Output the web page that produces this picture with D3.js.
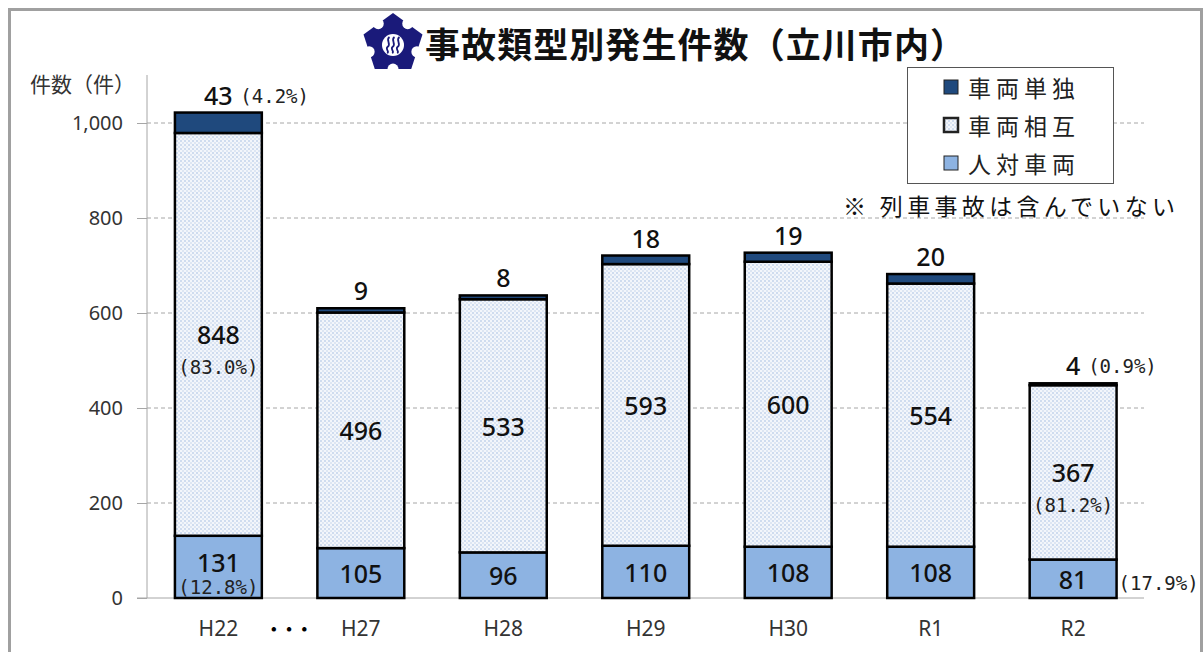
<!DOCTYPE html>
<html lang='ja'>
<head>
  <meta charset='UTF-8'>
  <title>事故類型別発生件数</title>
  <style>
    * { margin: 0; padding: 0; }
    body { background: #fff; }
    #chart { width: 1204px; height: 652px; overflow: hidden; }
    text { font-family: 'Noto Sans CJK JP', 'Noto Sans', sans-serif; }
  </style>
</head>
<body>
<script src='https://cdn.jsdelivr.net/npm/d3@7'></script>
<div id='chart'></div>
<script>
  // データ
  const categories = ['H22', 'H27', 'H28', 'H29', 'H30', 'R1', 'R2']
  const jinTaiSharyo = [131, 105, 96, 110, 108, 108, 81]    // 人対車両
  const sharyoSogo = [848, 496, 533, 593, 600, 554, 367]     // 車両相互
  const sharyoTandoku = [43, 9, 8, 18, 19, 20, 4]            // 車両単独
  const pctJin = ['12.8%', null, null, null, null, null, '17.9%']
  const pctSogo = ['83.0%', null, null, null, null, null, '81.2%']
  const pctTandoku = ['4.2%', null, null, null, null, null, '0.9%']
  const yTicks = [0, 200, 400, 600, 800, 1000]

  const W = 1204, H = 652
  const plotL = 147, plotR = 1144, plotT = 123, plotB = 598

  const svg = d3.select('#chart').append('svg')
    .attr('width', W).attr('height', H)

  const defs = svg.append('defs')
  const pat = defs.append('pattern').attr('id', 'dots')
    .attr('width', 4).attr('height', 4).attr('patternUnits', 'userSpaceOnUse')
  pat.append('rect').attr('width', 4).attr('height', 4).attr('fill', '#f3f6fb')
  pat.append('rect').attr('x', 0).attr('y', 0).attr('width', 2).attr('height', 2).attr('fill', '#cfdcef')
  pat.append('rect').attr('x', 2).attr('y', 2).attr('width', 2).attr('height', 2).attr('fill', '#dde6f3')

  // 枠
  svg.append('rect')
    .attr('x', 9.5).attr('y', 9.5).attr('width', 1192).attr('height', 680)
    .attr('fill', 'none').attr('stroke', '#a0a0a0').attr('stroke-width', 3)

  const x = d3.scaleBand().domain(categories).range([plotL, plotR + 0.5])
    .paddingInner(0.39).paddingOuter(0.196)
  const y = d3.scaleLinear().domain([0, 1000]).range([plotB, plotT])

  // グリッド
  svg.append('g').selectAll('line').data(yTicks.filter(d => d > 0)).join('line')
    .attr('x1', plotL).attr('x2', plotR)
    .attr('y1', d => y(d)).attr('y2', d => y(d))
    .attr('stroke', '#a6a6a6').attr('stroke-dasharray', '4,3')

  // y軸
  const yAxis = svg.append('g')
    .attr('transform', `translate(${plotL},0)`)
    .call(d3.axisLeft(y).tickValues(yTicks).tickSize(10).tickPadding(14).tickFormat(d3.format(',')))
  yAxis.select('.domain').remove()
  yAxis.selectAll('line').attr('stroke', '#a6a6a6')
  yAxis.selectAll('text').attr('font-size', 20).attr('fill', '#333')
    .style('font-family', "'Noto Sans', sans-serif")
  svg.append('line').attr('x1', plotL).attr('x2', plotL).attr('y1', 75).attr('y2', plotB)
    .attr('stroke', '#a6a6a6')
  svg.append('line').attr('x1', plotL - 10).attr('x2', plotR).attr('y1', plotB).attr('y2', plotB)
    .attr('stroke', '#a6a6a6')

  // x軸ラベル
  const xAxis = svg.append('g')
    .attr('transform', `translate(0,${plotB})`)
    .call(d3.axisBottom(x).tickSize(0).tickPadding(23))
  xAxis.select('.domain').remove()
  xAxis.selectAll('text').attr('font-size', 21).attr('fill', '#333')
    .style('font-family', "'Noto Sans', sans-serif")

  svg.append('text').attr('x', (x('H22') + x('H27') + x.bandwidth()) / 2).attr('y', 638)
    .attr('text-anchor', 'middle').attr('font-size', 24).attr('font-weight', 'bold')
    .attr('letter-spacing', 1).text('···')

  svg.append('text').attr('x', 30).attr('y', 92).attr('font-size', 21).attr('fill', '#333')
    .text('件数（件）')

  // 積み上げ
  const rows = categories.map((c, i) => ({
    cat: c, i,
    segs: [
      { key: 'jin', y0: 0, y1: jinTaiSharyo[i], v: jinTaiSharyo[i], pct: pctJin[i] },
      { key: 'sogo', y0: jinTaiSharyo[i], y1: jinTaiSharyo[i] + sharyoSogo[i], v: sharyoSogo[i], pct: pctSogo[i] },
      { key: 'tan', y0: jinTaiSharyo[i] + sharyoSogo[i], y1: jinTaiSharyo[i] + sharyoSogo[i] + sharyoTandoku[i], v: sharyoTandoku[i], pct: pctTandoku[i] }
    ]
  }))
  const fills = { jin: '#8db3e2', sogo: 'url(#dots)', tan: '#1f497d' }

  const g = svg.append('g').selectAll('g').data(rows).join('g')
  g.selectAll('rect').data(d => d.segs.map(s => ({ ...s, cat: d.cat }))).join('rect')
    .attr('x', d => x(d.cat))
    .attr('width', x.bandwidth())
    .attr('y', d => y(d.y1))
    .attr('height', d => y(d.y0) - y(d.y1))
    .attr('fill', d => fills[d.key])
    .attr('stroke', '#000').attr('stroke-width', 2.5)

  const numFont = 25, pctFont = 19
  rows.forEach(r => {
    const cx = x(r.cat) + x.bandwidth() / 2
    const [jin, sogo, tan] = r.segs
    // 人対車両
    const jm = (y(jin.y0) + y(jin.y1)) / 2
    const jh = y(jin.y0) - y(jin.y1)
    if (jin.pct && jh > 50) {
      addNum(cx, jm - 5, jin.v)
      addPct(cx, jm + 20, jin.pct, 'middle')
    } else {
      addNum(cx, jm, jin.v)
      if (jin.pct) addPct(x(r.cat) + x.bandwidth() + 2, jm + 4, jin.pct, 'start')
    }
    // 車両相互
    const sm = (y(sogo.y0) + y(sogo.y1)) / 2
    addNum(cx, sm, sogo.v)
    if (sogo.pct) addPct(cx, sm + 33, sogo.pct, 'middle')
    // 車両単独
    const ty = y(tan.y1) - 18
    addNum(cx, ty, tan.v)
    if (tan.pct) addPct(cx + (String(tan.v).length * 7) + 8, ty + 1, tan.pct, 'start')
  })

  function addNum (cx, cy, v) {
    svg.append('text').attr('x', cx).attr('y', cy)
      .attr('text-anchor', 'middle').attr('dominant-baseline', 'central')
      .attr('font-size', numFont).attr('font-weight', 500).attr('fill', '#111')
      .style('font-family', "'Noto Sans', sans-serif")
      .text(v)
  }
  function addPct (px, py, p, anchor) {
    svg.append('text').attr('x', px).attr('y', py)
      .attr('text-anchor', anchor).attr('dominant-baseline', 'central')
      .attr('font-size', pctFont).attr('fill', '#222')
      .style('font-family', "'DejaVu Sans Mono', monospace")
      .text('(' + p + ')')
  }

  // 凡例
  const legend = svg.append('g')
  legend.append('rect').attr('x', 907.5).attr('y', 67.5).attr('width', 206).attr('height', 116)
    .attr('fill', '#fff').attr('stroke', '#555').attr('stroke-width', 1)
  const legendItems = [
    { label: '車両単独', fill: '#1f497d', sw: 1 },
    { label: '車両相互', fill: 'url(#dots)', sw: 2.5 },
    { label: '人対車両', fill: '#8db3e2', sw: 1 }
  ]
  legendItems.forEach((d, i) => {
    const ly = 87 + i * 38
    legend.append('rect').attr('x', 944).attr('y', ly - 7).attr('width', 14).attr('height', 14)
      .attr('fill', d.fill).attr('stroke', '#222').attr('stroke-width', d.sw)
    legend.append('text').attr('x', 968).attr('y', ly).attr('dominant-baseline', 'central')
      .attr('font-size', 23).attr('letter-spacing', 5).attr('fill', '#222').text(d.label)
  })

  svg.append('text').attr('x', 843).attr('y', 205).attr('dominant-baseline', 'central')
    .attr('font-size', 23).attr('fill', '#111')
    .attr('textLength', 332).attr('lengthAdjust', 'spacing')
    .text('※ 列車事故は含んでいない')

  // タイトル
  svg.append('text').attr('x', 425).attr('y', 58)
    .attr('font-size', 35).attr('font-weight', 'bold').attr('fill', '#111')
    .attr('textLength', 540).attr('lengthAdjust', 'spacing')
    .text('事故類型別発生件数（立川市内）')

  // 市章
  const logo = svg.append('g').attr('transform', 'translate(393,44)')
  const R = 31
  const pts = d3.range(5).map(k => {
    const a = -Math.PI / 2 + k * 2 * Math.PI / 5
    return [R * Math.cos(a), R * Math.sin(a)]
  })
  logo.append('path').attr('d', d3.line()(pts) + 'Z').attr('fill', '#1a1a7a')
  d3.range(5).forEach(k => {
    const a = -Math.PI / 2 + (k + 0.5) * 2 * Math.PI / 5
    const rr = R * Math.cos(Math.PI / 5)
    logo.append('circle').attr('cx', rr * Math.cos(a)).attr('cy', rr * Math.sin(a)).attr('r', 5.5).attr('fill', '#fff')
  })
  logo.append('circle').attr('cx', 0).attr('cy', 1).attr('r', 11).attr('fill', '#fff')
  ;[-5, 0, 5].forEach(dx => {
    logo.append('path')
      .attr('d', `M${dx + 1.5},-7 C${dx - 3},-4 ${dx + 4},0 ${dx - 0.5},3 C${dx - 3},5 ${dx + 2},8 ${dx - 1},9`)
      .attr('fill', 'none').attr('stroke', '#1a1a7a').attr('stroke-width', 1.8)
  })
</script>
</body>
</html>
